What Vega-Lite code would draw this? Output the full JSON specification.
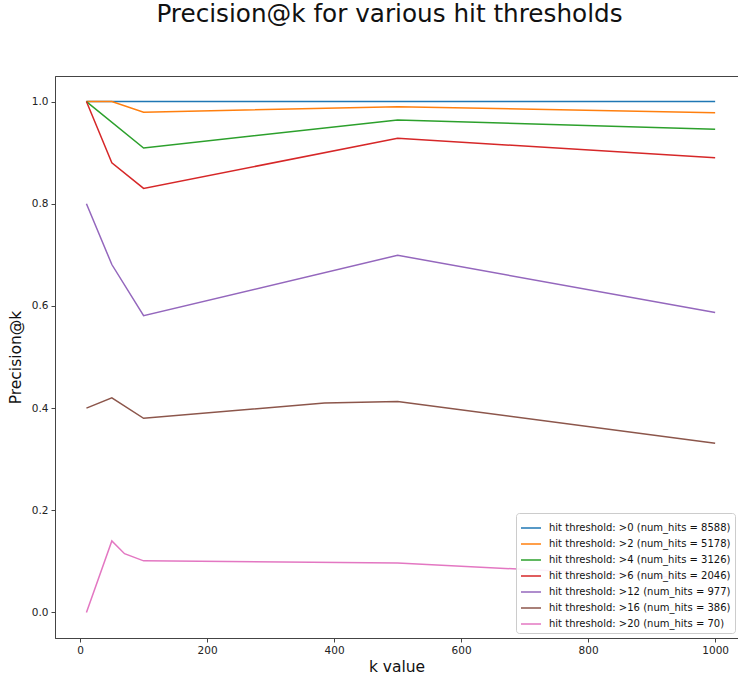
{
  "$schema": "https://vega.github.io/schema/vega-lite/v6.json",
  "autosize": "none",
  "width": 683,
  "height": 562,
  "padding": {"left": 55, "top": 76, "right": 0, "bottom": 40},
  "background": "white",
  "title": {
    "text": "Precision@k for various hit thresholds",
    "font": "DejaVu Sans",
    "fontSize": 24.7,
    "fontWeight": "normal",
    "color": "#111111",
    "anchor": "middle",
    "baseline": "alphabetic",
    "offset": 29,
    "dx": -7
  },
  "config": {
    "view": {"stroke": "#444444", "strokeWidth": 1},
    "font": "DejaVu Sans",
    "axis": {
      "grid": false,
      "domainColor": "#444444",
      "tickColor": "#444444",
      "tickSize": 4,
      "labelFont": "DejaVu Sans",
      "labelFontSize": 10.5,
      "labelColor": "#222222",
      "labelPadding": 3,
      "titleFont": "DejaVu Sans",
      "titleFontSize": 15.5,
      "titleFontWeight": "normal",
      "titleColor": "#111111"
    }
  },
  "data": {
    "values": [
      {"series": "hit threshold: >0 (num_hits = 8588)", "k": 10, "p": 1.0},
      {"series": "hit threshold: >0 (num_hits = 8588)", "k": 50, "p": 1.0},
      {"series": "hit threshold: >0 (num_hits = 8588)", "k": 100, "p": 1.0},
      {"series": "hit threshold: >0 (num_hits = 8588)", "k": 500, "p": 1.0},
      {"series": "hit threshold: >0 (num_hits = 8588)", "k": 1000, "p": 1.0},
      {"series": "hit threshold: >2 (num_hits = 5178)", "k": 10, "p": 1.0},
      {"series": "hit threshold: >2 (num_hits = 5178)", "k": 50, "p": 1.0},
      {"series": "hit threshold: >2 (num_hits = 5178)", "k": 100, "p": 0.979},
      {"series": "hit threshold: >2 (num_hits = 5178)", "k": 500, "p": 0.99},
      {"series": "hit threshold: >2 (num_hits = 5178)", "k": 1000, "p": 0.978},
      {"series": "hit threshold: >4 (num_hits = 3126)", "k": 10, "p": 1.0},
      {"series": "hit threshold: >4 (num_hits = 3126)", "k": 100, "p": 0.909},
      {"series": "hit threshold: >4 (num_hits = 3126)", "k": 500, "p": 0.964},
      {"series": "hit threshold: >4 (num_hits = 3126)", "k": 1000, "p": 0.946},
      {"series": "hit threshold: >6 (num_hits = 2046)", "k": 10, "p": 1.0},
      {"series": "hit threshold: >6 (num_hits = 2046)", "k": 50, "p": 0.88},
      {"series": "hit threshold: >6 (num_hits = 2046)", "k": 100, "p": 0.83},
      {"series": "hit threshold: >6 (num_hits = 2046)", "k": 500, "p": 0.928},
      {"series": "hit threshold: >6 (num_hits = 2046)", "k": 1000, "p": 0.89},
      {"series": "hit threshold: >12 (num_hits = 977)", "k": 10, "p": 0.8},
      {"series": "hit threshold: >12 (num_hits = 977)", "k": 50, "p": 0.681},
      {"series": "hit threshold: >12 (num_hits = 977)", "k": 100, "p": 0.581},
      {"series": "hit threshold: >12 (num_hits = 977)", "k": 500, "p": 0.699},
      {"series": "hit threshold: >12 (num_hits = 977)", "k": 1000, "p": 0.587},
      {"series": "hit threshold: >16 (num_hits = 386)", "k": 10, "p": 0.4},
      {"series": "hit threshold: >16 (num_hits = 386)", "k": 50, "p": 0.42},
      {"series": "hit threshold: >16 (num_hits = 386)", "k": 100, "p": 0.38},
      {"series": "hit threshold: >16 (num_hits = 386)", "k": 385, "p": 0.41},
      {"series": "hit threshold: >16 (num_hits = 386)", "k": 500, "p": 0.413},
      {"series": "hit threshold: >16 (num_hits = 386)", "k": 1000, "p": 0.331},
      {"series": "hit threshold: >20 (num_hits = 70)", "k": 10, "p": 0.0},
      {"series": "hit threshold: >20 (num_hits = 70)", "k": 50, "p": 0.14},
      {"series": "hit threshold: >20 (num_hits = 70)", "k": 70, "p": 0.115},
      {"series": "hit threshold: >20 (num_hits = 70)", "k": 100, "p": 0.101},
      {"series": "hit threshold: >20 (num_hits = 70)", "k": 500, "p": 0.097},
      {"series": "hit threshold: >20 (num_hits = 70)", "k": 1000, "p": 0.065}
    ]
  },
  "mark": {"type": "line", "strokeWidth": 1.5, "clip": true},
  "encoding": {
    "x": {
      "field": "k",
      "type": "quantitative",
      "scale": {"domain": [-39.5, 1036], "nice": false, "zero": false},
      "axis": {"values": [0, 200, 400, 600, 800, 1000], "format": "d", "title": "k value", "titlePadding": 4}
    },
    "y": {
      "field": "p",
      "type": "quantitative",
      "scale": {"domain": [-0.05, 1.05], "nice": false, "zero": false},
      "axis": {"values": [0, 0.2, 0.4, 0.6, 0.8, 1.0], "format": ".1f", "title": "Precision@k", "titlePadding": 8}
    },
    "color": {
      "field": "series",
      "type": "nominal",
      "scale": {
        "domain": [
          "hit threshold: >0 (num_hits = 8588)",
          "hit threshold: >2 (num_hits = 5178)",
          "hit threshold: >4 (num_hits = 3126)",
          "hit threshold: >6 (num_hits = 2046)",
          "hit threshold: >12 (num_hits = 977)",
          "hit threshold: >16 (num_hits = 386)",
          "hit threshold: >20 (num_hits = 70)"
        ],
        "range": ["#1f77b4", "#ff7f0e", "#2ca02c", "#d62728", "#9467bd", "#8c564b", "#e377c2"]
      },
      "legend": {
        "title": null,
        "orient": "none",
        "legendX": 461,
        "legendY": 437,
        "symbolType": "stroke",
        "symbolSize": 400,
        "symbolStrokeWidth": 1.5,
        "labelFont": "DejaVu Sans",
        "labelFontSize": 10,
        "labelLimit": 400,
        "labelColor": "#111111",
        "labelOffset": 7,
        "rowPadding": 0,
        "padding": 4,
        "fillColor": "rgba(255,255,255,0.9)",
        "strokeColor": "#cccccc",
        "cornerRadius": 3
      }
    }
  }
}
